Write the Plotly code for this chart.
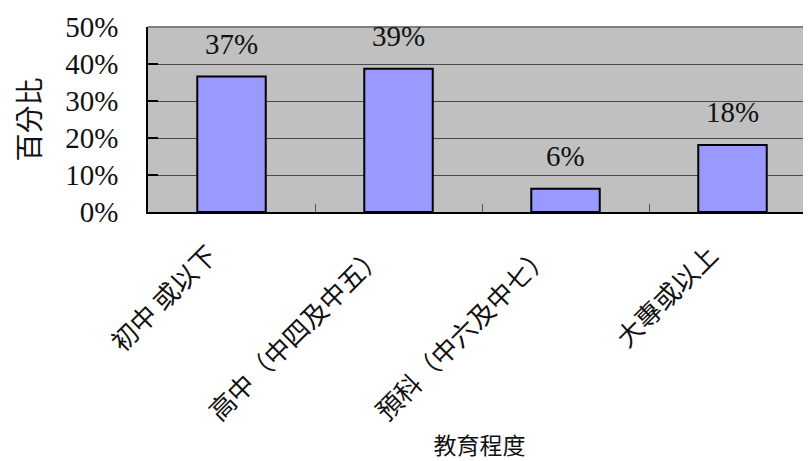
import plotly.graph_objects as go

categories = ["初中 或以下", "高中（中四及中五）", "預科（中六及中七）", "大專或以上"]
values = [0.366, 0.387, 0.063, 0.181]
labels = ["37%", "39%", "6%", "18%"]
y_ticks = [0, 0.1, 0.2, 0.3, 0.4, 0.5]
y_tick_text = ["0%", "10%", "20%", "30%", "40%", "50%"]

serif = "Liberation Serif, Times New Roman, serif"
cjk = "Noto Sans CJK TC, Noto Sans CJK SC, sans-serif"

fig = go.Figure()
fig.add_trace(go.Bar(
    x=categories, y=values, width=0.41,
    marker=dict(color="#9999FF", line=dict(color="#000000", width=2)),
    cliponaxis=False, hoverinfo="skip",
))

for c, v, t in zip(categories, values, labels):
    fig.add_annotation(x=c, y=v, text=t, showarrow=False, yshift=33,
                       yanchor="middle", font=dict(family=serif, size=29, color="#111"))

fig.update_layout(
    width=803, height=453,
    margin=dict(l=140, r=0, t=19, b=249),
    paper_bgcolor="white", plot_bgcolor="#C0C0C0",
    showlegend=False,
    xaxis=dict(
        type="category", range=[-0.5, 3.47],
        tickangle=-45, tickfont=dict(family=cjk, size=26, color="#111"),
        showgrid=False, zeroline=False,
        showline=True, linecolor="#000", linewidth=1.5,
        ticks="inside", ticklen=8, tickcolor="#555", tickwidth=1.2, tickson="boundaries",
        ticklabelshift=-22, ticklabelstandoff=16,
        title=dict(text="教育程度", font=dict(family=cjk, size=23, color="#111"), standoff=10),
        fixedrange=True,
    ),
    yaxis=dict(
        range=[0, 0.5], tickmode="array", tickvals=y_ticks, ticktext=y_tick_text,
        tickfont=dict(family=serif, size=29, color="#111"),
        showgrid=True, gridcolor="#4a4a4a", gridwidth=1.2, zeroline=False,
        showline=True, linecolor="#000", linewidth=1.5,
        ticks="inside", ticklen=10, tickcolor="#000", tickwidth=1.5, ticklabelstandoff=22,
        title=dict(text="百分比", font=dict(family=cjk, size=28, color="#111"), standoff=26),
        fixedrange=True,
    ),
    shapes=[dict(type="line", xref="paper", yref="paper", x0=0, x1=1, y0=1, y1=1,
                 line=dict(color="#808080", width=2))],
)

fig.write_html("out.html")
